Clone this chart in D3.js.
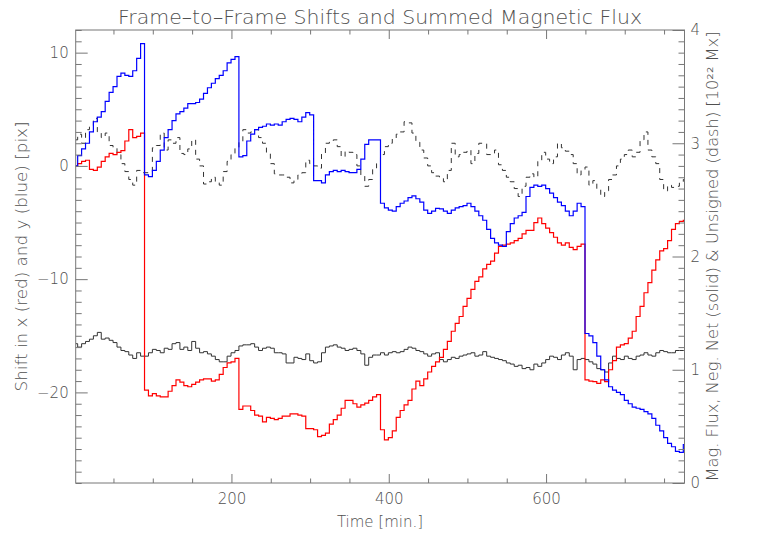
<!DOCTYPE html>
<html><head><meta charset="utf-8">
<script src="https://cdn.jsdelivr.net/npm/d3@7"></script>
<style>
html,body{margin:0;padding:0;background:#fff;}
svg{display:block;}
text{font-family:"DejaVu Sans","Liberation Sans",sans-serif;font-weight:200;fill:#505050;}
</style></head><body>
<svg id="chart" width="761" height="544"></svg>
<script>
// ---------------- DATA ----------------
const title = "Frame\u2013to\u2013Frame Shifts and Summed Magnetic Flux";
const xLabel = "Time [min.]";
const yLeftLabel = "Shift in x (red) and y (blue) [pix]";
const yRightLabel = "Mag. Flux, Neg. Net (solid) & Unsigned (dash) [10\u00B2\u00B2 Mx]";

const timeStart = 2, timeStep = 5;        // sampling: minutes
const xDomain = [2, 776];
const yLeftDomain = [-28, 12];
const yRightDomain = [0, 4];

const xTicksMajor = [200, 400, 600];
const xTicksMinor = [50, 100, 150, 250, 300, 350, 450, 500, 550, 650, 700, 750];
const yLeftTicksMajor = [-20, -10, 0, 10];
const yRightTicksMajor = [0, 1, 2, 3, 4];

// shift in x (red), pixels
const shiftX = [
 0.0,0.2,0.4,0.5,-0.3,-0.4,-0.1,0.4,0.8,1.1,
 1.0,1.2,1.35,2.2,3.2,2.5,2.6,2.9,-19.8,-20.3,
 -20.1,-20.3,-20.4,-20.4,-19.9,-19.4,-18.9,-19.1,-19.4,-19.5,
 -19.3,-19.1,-18.9,-18.8,-18.8,-19.0,-18.9,-18.4,-17.8,-17.4,
 -17.3,-17.0,-21.5,-21.2,-21.2,-21.6,-22.0,-22.1,-22.6,-22.2,
 -22.3,-22.4,-22.3,-22.1,-22.1,-21.9,-21.9,-22.0,-22.1,-23.2,
 -23.2,-23.3,-23.9,-23.8,-23.6,-22.8,-22.4,-22.0,-21.4,-20.7,
 -20.7,-21.0,-21.3,-21.1,-20.95,-20.7,-20.4,-20.2,-23.3,-24.2,
 -24.0,-23.4,-22.2,-21.6,-21.1,-20.7,-19.7,-19.0,-19.4,-18.8,
 -18.2,-17.7,-17.3,-16.9,-16.2,-15.5,-14.6,-13.9,-13.3,-12.4,
 -11.7,-10.9,-10.2,-9.8,-9.1,-8.7,-8.4,-7.7,-7.1,-7.0,
 -6.9,-6.8,-6.6,-6.4,-6.0,-5.7,-5.7,-5.0,-4.6,-5.1,
 -5.5,-5.9,-6.3,-6.8,-7.0,-6.8,-7.2,-7.4,-7.1,-6.9,
 -18.9,-19.0,-19.05,-19.2,-18.9,-19.05,-18.0,-17.2,-16.0,-15.8,
 -15.7,-15.2,-14.6,-13.3,-12.4,-11.2,-10.3,-9.2,-8.3,-7.5,
 -7.3,-6.6,-5.6,-5.1,-4.9,-4.8
];
// shift in y (blue), pixels
const shiftY = [
 0.0,0.9,1.5,2.0,3.0,3.9,4.3,4.8,5.7,6.5,
 7.0,7.9,8.2,8.0,7.9,8.4,9.5,10.8,-0.8,-0.95,
 -0.4,0.4,1.4,2.5,3.2,4.0,4.6,4.8,5.1,5.5,
 5.5,5.6,5.9,6.4,6.9,7.3,7.7,8.0,8.4,9.1,
 9.4,9.65,0.8,0.9,2.2,2.8,3.2,3.4,3.5,3.7,
 3.6,3.7,3.6,3.9,4.1,4.2,4.1,3.9,4.3,4.7,
 4.5,-1.3,-1.3,-1.5,-0.8,-0.5,-0.4,-0.5,-0.4,-0.5,
 -0.6,-0.6,-0.3,0.6,1.9,2.3,2.3,2.3,-3.3,-3.7,
 -3.9,-4.0,-3.6,-3.3,-3.1,-2.8,-2.65,-2.9,-3.2,-3.9,
 -4.2,-4.0,-3.75,-3.8,-4.0,-4.2,-3.9,-3.7,-3.6,-3.5,
 -3.3,-3.6,-4.0,-4.4,-4.8,-5.6,-6.4,-6.8,-7.0,-7.1,
 -5.8,-5.1,-4.6,-4.4,-4.1,-2.7,-1.9,-1.7,-1.8,-1.7,
 -2.0,-2.4,-2.8,-3.2,-3.5,-4.0,-4.4,-4.0,-3.3,-3.6,
 -14.8,-15.0,-15.6,-16.8,-18.0,-18.9,-19.5,-19.8,-20.0,-20.2,
 -20.7,-21.0,-21.3,-21.4,-21.5,-21.7,-21.9,-22.3,-22.9,-23.4,
 -24.0,-24.5,-24.8,-25.2,-25.3,-24.6
];
// negative net flux (solid), 10^22 Mx
const fluxNet = [
 1.23,1.20,1.23,1.25,1.27,1.30,1.33,1.27,1.28,1.26,
 1.24,1.20,1.17,1.16,1.13,1.10,1.15,1.12,1.12,1.15,
 1.18,1.17,1.15,1.19,1.18,1.23,1.24,1.18,1.20,1.17,
 1.25,1.19,1.15,1.16,1.14,1.12,1.09,1.07,1.07,1.12,
 1.15,1.17,1.21,1.22,1.22,1.23,1.20,1.17,1.19,1.20,
 1.19,1.15,1.15,1.14,1.06,1.06,1.11,1.10,1.09,1.14,
 1.08,1.06,1.07,1.15,1.20,1.21,1.22,1.20,1.19,1.17,
 1.18,1.19,1.17,1.14,1.04,1.11,1.13,1.13,1.15,1.13,
 1.15,1.16,1.15,1.16,1.18,1.20,1.19,1.17,1.16,1.14,
 1.12,1.14,1.15,1.09,1.07,1.09,1.11,1.10,1.12,1.13,
 1.14,1.15,1.12,1.13,1.16,1.12,1.11,1.10,1.09,1.08,
 1.06,1.05,1.03,1.04,1.01,1.02,1.00,1.05,1.03,1.06,
 1.09,1.12,1.11,1.09,1.13,1.15,1.12,1.00,1.09,1.10,
 1.09,1.07,1.05,1.01,1.00,0.98,1.06,1.12,1.10,1.09,
 1.12,1.10,1.09,1.12,1.13,1.15,1.13,1.12,1.15,1.17,
 1.16,1.15,1.15,1.17,1.17,1.17
];
// unsigned flux (dash), 10^22 Mx
const fluxUnsigned = [
 3.03,3.08,3.00,3.12,3.15,3.22,3.10,3.05,3.09,2.98,
 2.96,2.90,2.82,2.75,2.68,2.63,2.76,2.74,2.74,2.75,
 2.96,2.98,3.09,2.94,3.03,3.00,3.05,2.91,2.90,2.95,
 3.03,2.86,2.80,2.64,2.66,2.70,2.66,2.63,2.75,2.84,
 2.90,2.96,3.01,3.12,3.09,3.10,3.12,3.05,3.00,2.92,
 2.82,2.73,2.72,2.72,2.70,2.65,2.68,2.72,2.74,2.85,
 2.82,2.80,2.78,2.91,3.00,3.02,3.03,2.97,2.88,2.93,
 2.92,2.90,2.80,2.72,2.62,2.68,2.78,2.82,2.90,2.97,
 3.00,3.04,3.08,3.10,3.19,3.18,3.09,3.01,2.94,2.87,
 2.80,2.74,2.71,2.69,2.66,2.76,3.00,2.88,2.90,2.92,
 2.94,2.82,2.91,3.00,3.00,2.90,2.90,2.94,2.81,2.76,
 2.70,2.66,2.60,2.53,2.62,2.70,2.73,2.70,2.84,2.92,
 2.86,2.82,2.88,3.00,2.96,2.93,2.90,2.82,2.72,2.76,
 2.79,2.63,2.67,2.59,2.53,2.58,2.68,2.72,2.80,2.86,
 2.90,2.94,2.88,2.92,3.03,3.10,2.94,2.88,2.82,2.68,
 2.58,2.63,2.61,2.62,2.65,2.68
];

// ---------------- LAYOUT ----------------
const W = 761, H = 544;
const plot = {left: 75.7, right: 684.5, top: 30, bottom: 483};
const axisColor = "#777";

const svg = d3.select("#chart");
svg.append("rect").attr("width", W).attr("height", H).attr("fill", "#fff");

const x = d3.scaleLinear().domain(xDomain).range([plot.left, plot.right]);
const yL = d3.scaleLinear().domain(yLeftDomain).range([plot.bottom, plot.top]);
const yR = d3.scaleLinear().domain(yRightDomain).range([plot.bottom, plot.top]);

const time = shiftX.map((_, i) => timeStart + timeStep * i);

svg.append("clipPath").attr("id", "clip")
  .append("rect").attr("x", plot.left).attr("y", plot.top)
  .attr("width", plot.right - plot.left).attr("height", plot.bottom - plot.top);

const g = svg.append("g").attr("clip-path", "url(#clip)");

function stepLine(yScale) {
  return d3.line().curve(d3.curveStep).x((d, i) => x(time[i])).y(d => yScale(d));
}

g.append("path").datum(fluxUnsigned).attr("d", stepLine(yR))
  .attr("fill", "none").attr("stroke", "#333").attr("stroke-width", 1)
  .attr("stroke-dasharray", "5,5");
g.append("path").datum(fluxNet).attr("d", stepLine(yR))
  .attr("fill", "none").attr("stroke", "#333").attr("stroke-width", 1);
g.append("path").datum(shiftX).attr("d", stepLine(yL))
  .attr("fill", "none").attr("stroke", "#ff0000").attr("stroke-width", 1.2);
g.append("path").datum(shiftY).attr("d", stepLine(yL))
  .attr("fill", "none").attr("stroke", "#0000ff").attr("stroke-width", 1.2);

// ---------------- AXES ----------------
function styleAxis(sel) {
  sel.select(".domain").remove();
  sel.selectAll(".tick line").attr("stroke", axisColor);
  sel.selectAll(".tick text").attr("fill", "#505050")
     .style("font-family", '"DejaVu Sans","Liberation Sans",sans-serif')
     .style("font-weight", 200).style("font-size", "15px");
}
const fmt = d3.format("d");
// bottom
svg.append("g").attr("transform", `translate(0,${plot.bottom})`)
  .call(d3.axisBottom(x).tickValues(xTicksMajor).tickFormat(fmt).tickSizeInner(-9).tickSizeOuter(0).tickPadding(10))
  .call(styleAxis);
svg.append("g").attr("transform", `translate(0,${plot.bottom})`)
  .call(d3.axisBottom(x).tickValues(xTicksMinor).tickFormat("").tickSizeInner(-4.5).tickSizeOuter(0))
  .call(styleAxis);
// top
svg.append("g").attr("transform", `translate(0,${plot.top})`)
  .call(d3.axisTop(x).tickValues(xTicksMajor).tickFormat("").tickSizeInner(-9).tickSizeOuter(0))
  .call(styleAxis);
svg.append("g").attr("transform", `translate(0,${plot.top})`)
  .call(d3.axisTop(x).tickValues(xTicksMinor).tickFormat("").tickSizeInner(-4.5).tickSizeOuter(0))
  .call(styleAxis);
// left
const yLeftMinor = d3.range(yLeftDomain[0], yLeftDomain[1] + 1).filter(v => !yLeftTicksMajor.includes(v));
svg.append("g").attr("transform", `translate(${plot.left},0)`)
  .call(d3.axisLeft(yL).tickValues(yLeftTicksMajor).tickFormat(fmt).tickSizeInner(-12).tickSizeOuter(0).tickPadding(7))
  .call(styleAxis);
svg.append("g").attr("transform", `translate(${plot.left},0)`)
  .call(d3.axisLeft(yL).tickValues(yLeftMinor).tickFormat("").tickSizeInner(-6).tickSizeOuter(0))
  .call(styleAxis);
// right
const yRightMinor = d3.range(1, 40).map(i => i / 10).filter(v => Math.abs(v - Math.round(v)) > 1e-6);
svg.append("g").attr("transform", `translate(${plot.right},0)`)
  .call(d3.axisRight(yR).tickValues(yRightTicksMajor).tickFormat(fmt).tickSizeInner(-12).tickSizeOuter(0).tickPadding(6))
  .call(styleAxis);
svg.append("g").attr("transform", `translate(${plot.right},0)`)
  .call(d3.axisRight(yR).tickValues(yRightMinor).tickFormat("").tickSizeInner(-6).tickSizeOuter(0))
  .call(styleAxis);

// frame
svg.append("rect").attr("x", plot.left).attr("y", plot.top)
  .attr("width", plot.right - plot.left).attr("height", plot.bottom - plot.top)
  .attr("fill", "none").attr("stroke", axisColor).attr("stroke-width", 1);

// ---------------- TEXT ----------------
const cx = (plot.left + plot.right) / 2;
svg.append("text").attr("x", cx).attr("y", 24).attr("text-anchor", "middle")
  .style("font-size", "19px").attr("textLength", 524).attr("lengthAdjust", "spacingAndGlyphs")
  .text(title);
svg.append("text").attr("x", 380).attr("y", 527).attr("text-anchor", "middle")
  .style("font-size", "15px").text(xLabel);
svg.append("text").attr("transform", `translate(27,${(plot.top + plot.bottom) / 2}) rotate(-90)`)
  .attr("text-anchor", "middle").style("font-size", "15px")
  .attr("textLength", 270).attr("lengthAdjust", "spacingAndGlyphs").text(yLeftLabel);
svg.append("text").attr("transform", `translate(718,${(plot.top + plot.bottom) / 2}) rotate(-90)`)
  .attr("text-anchor", "middle").style("font-size", "15px")
  .attr("textLength", 450).attr("lengthAdjust", "spacingAndGlyphs").text(yRightLabel);
</script></body></html>
